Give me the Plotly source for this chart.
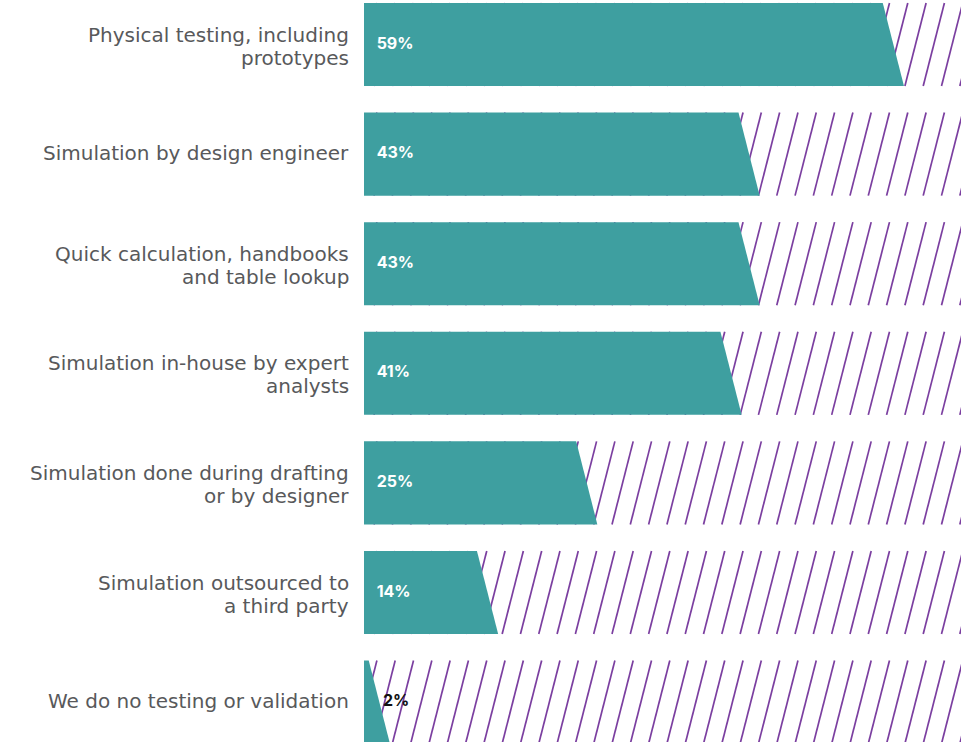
import plotly.graph_objects as go

categories = [
    "Physical testing, including<br>prototypes",
    "Simulation by design engineer",
    "Quick calculation, handbooks<br>and table lookup",
    "Simulation in-house by expert<br>analysts",
    "Simulation done during drafting<br>or by designer",
    "Simulation outsourced to<br>a third party",
    "We do no testing or validation",
]
values = [59, 43, 43, 41, 25, 14, 2]
value_labels = ["59%", "43%", "43%", "41%", "25%", "14%", "2%"]

BAR_COLOR = "#3E9FA0"
HATCH_COLOR = "#7B3FA0"
TEXT_COLOR = "#58595B"

X_MAX = 66.2
HALF = 0.379          # half bar thickness (in row units)
SKEW = 2.35           # horizontal slant of bar end / hatch lines (in % units)
OFFSET = 0.3
HATCH_STEP = 2.03

fig = go.Figure()

# hatched background lines for each row
for i in range(len(values)):
    yb, yt = i + HALF, i - HALF
    xs, ys = [], []
    x0 = -SKEW - 0.6
    while x0 < X_MAX + 1:
        xs += [x0, x0 + SKEW, None]
        ys += [yb, yt, None]
        x0 += HATCH_STEP
    fig.add_trace(go.Scatter(x=xs, y=ys, mode="lines",
                             line=dict(color=HATCH_COLOR, width=1.7),
                             hoverinfo="skip", showlegend=False))

# slanted-end bars
for i, v in enumerate(values):
    top_x = max(0, v - SKEW / 2 - OFFSET)
    bot_x = v + SKEW / 2 - OFFSET
    fig.add_trace(go.Scatter(
        x=[0, top_x, bot_x, 0, 0],
        y=[i - HALF, i - HALF, i + HALF, i + HALF, i - HALF],
        mode="lines", fill="toself", fillcolor=BAR_COLOR,
        line=dict(color=BAR_COLOR, width=0),
        hoverinfo="skip", showlegend=False))

# value labels
text_x = [1.4 if v >= 5 else 2.1 for v in values]
text_col = ["white" if v >= 5 else "#111111" for v in values]
fig.add_trace(go.Scatter(
    x=text_x, y=list(range(len(values))), mode="text",
    text=[f"<b>{t}</b>" for t in value_labels],
    textposition="middle right",
    textfont=dict(family="Inter, Open Sans, sans-serif", size=16, color=text_col),
    hoverinfo="skip", showlegend=False))

# category labels (one annotation per text line for tight line spacing)
annotations = []
for i, cat in enumerate(categories):
    lines = cat.split("<br>")
    if len(lines) == 1:
        shifts = [1]
    else:
        shifts = [10, -13]
    for line, s in zip(lines, shifts):
        annotations.append(dict(
            x=0, xref="paper", y=i, yref="y", text=line, showarrow=False,
            xanchor="right", yanchor="middle", xshift=-13, yshift=s,
            font=dict(family="DejaVu Sans, sans-serif", size=20, color=TEXT_COLOR)))

fig.update_layout(
    width=961, height=742,
    margin=dict(l=364, r=0, t=0, b=0),
    plot_bgcolor="white", paper_bgcolor="white",
    annotations=annotations,
)
fig.update_xaxes(range=[0, X_MAX], visible=False, showgrid=False, zeroline=False)
fig.update_yaxes(range=[6.364, -0.406], visible=False,
                 showgrid=False, zeroline=False, showline=False)

fig.write_html("out.html", config={"displayModeBar": False},
               post_script="document.body.style.margin='0';")
